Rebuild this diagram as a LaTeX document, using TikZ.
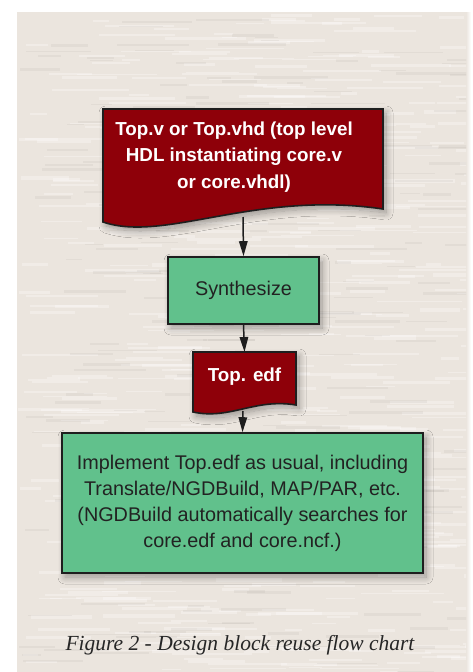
\documentclass[tikz,border=0pt]{standalone}
\usepackage{fontspec}
\setmainfont{Liberation Serif}
\setsansfont{Liberation Sans}
\usetikzlibrary{arrows.meta,shadows.blur}

\definecolor{paper}{RGB}{235,229,222}
\definecolor{docred}{RGB}{142,0,9}
\definecolor{stepgreen}{RGB}{97,193,140}
\definecolor{inkline}{RGB}{30,30,30}
\definecolor{bodytext}{RGB}{34,34,34}

\tikzset{
  boxshadow/.style={blur shadow={shadow xshift=3pt,shadow yshift=-4pt,
      shadow blur steps=10,shadow blur radius=7pt,shadow opacity=35}},
  docshape/.style={fill=docred,draw=inkline,line width=1.6pt,boxshadow},
  procbox/.style={draw=inkline,fill=stepgreen,line width=1.6pt,boxshadow,
      rectangle,inner sep=0pt,text=bodytext,align=center,
      font=\sffamily\fontsize{19.8}{26}\selectfont},
  doctext/.style={text=white,align=center,
      font=\sffamily\bfseries\fontsize{18.8}{26.5}\selectfont},
  flow/.style={draw=inkline,line width=1.5pt,-{Triangle[length=15pt,width=8.5pt]}},
  caption/.style={font=\itshape\fontsize{21.5}{24}\selectfont,text=black!85}
}

\begin{document}
\begin{tikzpicture}[x=1pt,y=-1pt]
  \useasboundingbox (0,0) rectangle (473,672);
  \fill[white] (0,0) rectangle (473,672);

  % textured paper panel
  \fill[paper] (17,12) rectangle (466,672);
  \fill[left color=paper,right color=white] (466,12) rectangle (471,672);
  \pgfmathsetseed{7}
  \begin{scope}
    \clip (17,12) rectangle (466,672);
    \foreach \i in {1,...,560}{
      \pgfmathsetmacro{\sx}{17+rnd*449}
      \pgfmathsetmacro{\sy}{12+rnd*660}
      \pgfmathsetmacro{\sl}{15+rnd*70}
      \pgfmathsetmacro{\sh}{1+rnd*2.5}
      \fill[white,opacity=0.3] (\sx,\sy) rectangle ++(\sl,\sh);
    }
    \foreach \i in {1,...,220}{
      \pgfmathsetmacro{\sx}{17+rnd*449}
      \pgfmathsetmacro{\sy}{12+rnd*660}
      \pgfmathsetmacro{\sl}{15+rnd*60}
      \pgfmathsetmacro{\sh}{1+rnd*2}
      \fill[black!30!paper,opacity=0.12] (\sx,\sy) rectangle ++(\sl,\sh);
    }
  \end{scope}

  % top-level HDL document
  \path[docshape] (103,109) -- (383,109) -- (383,209)
     .. controls (255,190) and (165,243) .. (103,222) -- cycle;
  \node[doctext] (hdl) at (234,157)
     {Top.v or Top.vhd (top level\\HDL instantiating core.v\\or core.vhdl)};
  \coordinate (hdlout) at (243,217);

  % synthesis step
  \node[procbox,minimum width=151pt,minimum height=67pt] (synth) at (243.5,290.5) {Synthesize};

  % netlist document
  \path[docshape] (193,352) -- (296,352) -- (296,405)
     .. controls (255,398) and (230,420) .. (193,412) -- cycle;
  \node[doctext] (edf) at (244.5,377) {Top. edf};
  \coordinate (edfout) at (243,411);

  % implementation step
  \node[procbox,minimum width=361pt,minimum height=140pt] (impl) at (242.5,503)
     {Implement Top.edf as usual, including\\Translate/NGDBuild, MAP/PAR, etc.\\(NGDBuild automatically searches for\\core.edf and core.ncf.)};

  % connectors
  \draw[flow] (hdlout) -- (synth.north);
  \draw[flow] (synth.south) -- (edf.north |- 0,352);
  \draw[flow] (edfout) -- (impl.north);

  \node[caption] (cap) at (240,645) {Figure 2 - Design block reuse flow chart};
\end{tikzpicture}
\end{document}
